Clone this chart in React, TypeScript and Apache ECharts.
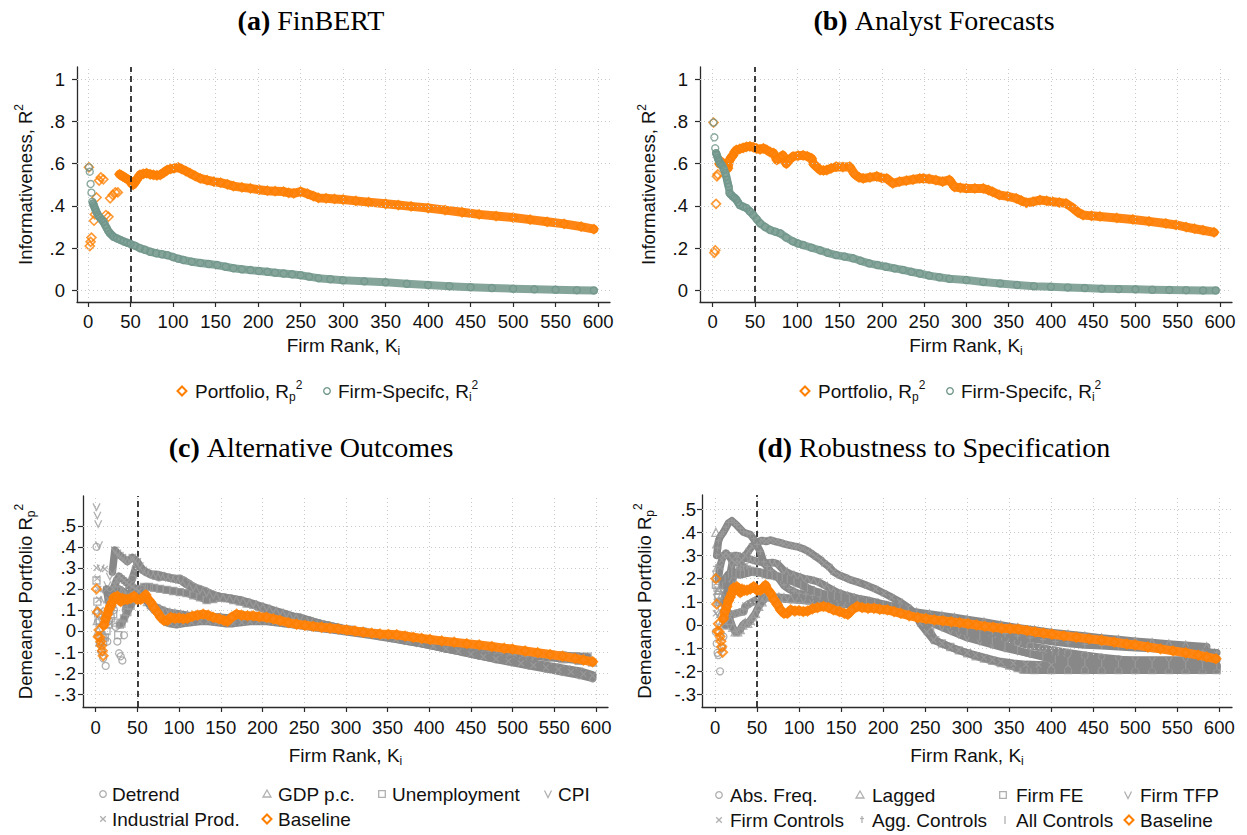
import React, { useEffect, useRef } from 'react';
import * as echarts from 'echarts';

// ---------- tick values ----------
const X_TICKS = [0, 50, 100, 150, 200, 250, 300, 350, 400, 450, 500, 550, 600];
const Y_TICKS_AB = [0, 0.2, 0.4, 0.6, 0.8, 1];
const Y_TICKS_CD = [-0.3, -0.2, -0.1, 0, 0.1, 0.2, 0.3, 0.4, 0.5];

// ---------- (a) FinBERT : [firm rank, R²] ----------
const aPortfolio: [number, number][] = [
  [1, 0.583], [2, 0.21], [3, 0.23], [4, 0.25], [7, 0.33], [8, 0.36], [10, 0.44], [13, 0.52], [15, 0.535], [18, 0.526],
  [21, 0.357], [24, 0.349], [26, 0.436], [29, 0.452], [32, 0.464], [35, 0.464], [37, 0.55], [39, 0.545], [41, 0.54],
  [43, 0.535], [45, 0.53], [47, 0.525], [49, 0.52], [51, 0.507], [53, 0.5], [55, 0.51], [57, 0.523], [59, 0.535],
  [61, 0.547], [65, 0.552], [69, 0.555], [73, 0.55], [77, 0.547], [81, 0.545], [85, 0.547], [89, 0.558], [93, 0.57],
  [97, 0.575], [101, 0.578], [106, 0.583], [110, 0.575], [115, 0.565], [120, 0.555], [126, 0.542], [132, 0.53],
  [140, 0.522], [148, 0.515], [156, 0.51], [164, 0.502], [171, 0.494], [181, 0.488], [191, 0.483], [201, 0.477],
  [211, 0.472], [220, 0.47], [230, 0.468], [236, 0.462], [242, 0.46], [250, 0.468], [258, 0.458], [265, 0.447],
  [271, 0.438], [280, 0.436], [290, 0.433], [300, 0.43], [315, 0.424], [330, 0.418], [350, 0.41], [365, 0.404],
  [380, 0.398], [400, 0.39], [420, 0.38], [440, 0.37], [460, 0.36], [480, 0.352], [500, 0.345], [520, 0.335],
  [540, 0.325], [560, 0.315], [580, 0.302], [595, 0.29],
];
const aFirm: [number, number][] = [
  [1, 0.583], [2, 0.562], [3, 0.504], [4, 0.463], [5, 0.42], [6, 0.412], [7, 0.4], [8, 0.39], [9, 0.38], [10, 0.37],
  [12, 0.355], [14, 0.345], [16, 0.335], [18, 0.325], [20, 0.31], [22, 0.295], [24, 0.28], [26, 0.27], [28, 0.262],
  [30, 0.254], [34, 0.246], [38, 0.239], [42, 0.232], [46, 0.226], [50, 0.22], [55, 0.212], [61, 0.2], [67, 0.192],
  [73, 0.183], [80, 0.176], [87, 0.171], [93, 0.167], [100, 0.158], [106, 0.15], [112, 0.144], [122, 0.136],
  [132, 0.13], [142, 0.125], [152, 0.12], [162, 0.112], [171, 0.105], [181, 0.1], [191, 0.096], [201, 0.092],
  [211, 0.088], [220, 0.084], [230, 0.08], [240, 0.076], [250, 0.072], [260, 0.065], [271, 0.058], [285, 0.053],
  [300, 0.048], [325, 0.043], [350, 0.038], [375, 0.031], [400, 0.025], [425, 0.02], [450, 0.015], [475, 0.011],
  [500, 0.008], [525, 0.005], [550, 0.003], [575, 0.001], [595, 0.0],
];

// ---------- (b) Analyst Forecasts ----------
const bPortfolio: [number, number][] = [
  [1, 0.795], [2, 0.178], [3, 0.19], [4, 0.41], [5, 0.54], [6, 0.55], [8, 0.6], [10, 0.61], [12, 0.595], [14, 0.59],
  [16, 0.585], [18, 0.578], [20, 0.617], [22, 0.63], [24, 0.64], [26, 0.655], [28, 0.665], [32, 0.67], [36, 0.675],
  [40, 0.68], [44, 0.682], [48, 0.678], [52, 0.672], [56, 0.668], [60, 0.673], [64, 0.665], [68, 0.655], [72, 0.65],
  [76, 0.618], [80, 0.63], [83, 0.64], [87, 0.6], [91, 0.62], [95, 0.634], [101, 0.638], [107, 0.64], [112, 0.635],
  [117, 0.625], [119, 0.6], [123, 0.585], [127, 0.57], [131, 0.568], [135, 0.57], [140, 0.578], [146, 0.586],
  [154, 0.584], [162, 0.586], [168, 0.55], [173, 0.535], [178, 0.53], [186, 0.535], [194, 0.54], [200, 0.533],
  [206, 0.53], [213, 0.507], [221, 0.515], [229, 0.52], [237, 0.525], [245, 0.53], [249, 0.53], [256, 0.528],
  [264, 0.522], [272, 0.515], [280, 0.523], [286, 0.49], [293, 0.486], [300, 0.483], [310, 0.483], [320, 0.483],
  [326, 0.475], [331, 0.467], [339, 0.452], [349, 0.445], [359, 0.436], [365, 0.425], [371, 0.415], [379, 0.42],
  [387, 0.428], [395, 0.424], [402, 0.42], [410, 0.416], [418, 0.412], [426, 0.39], [432, 0.37], [438, 0.357],
  [448, 0.353], [458, 0.35], [478, 0.343], [497, 0.336], [516, 0.327], [536, 0.317], [548, 0.31], [560, 0.3],
  [570, 0.292], [580, 0.285], [593, 0.275],
];
const bFirm: [number, number][] = [
  [1, 0.795], [2, 0.725], [3, 0.673], [4, 0.65], [5, 0.64], [6, 0.628], [7, 0.618], [8, 0.61], [9, 0.6], [11, 0.593],
  [13, 0.575], [15, 0.555], [16, 0.54], [17, 0.523], [18, 0.505], [19, 0.49], [20, 0.46], [22, 0.452], [24, 0.444],
  [26, 0.438], [28, 0.43], [30, 0.417], [32, 0.404], [36, 0.397], [40, 0.39], [44, 0.374], [48, 0.357], [52, 0.338],
  [56, 0.318], [62, 0.3], [68, 0.286], [74, 0.278], [80, 0.27], [87, 0.25], [95, 0.232], [101, 0.222], [107, 0.215],
  [117, 0.202], [127, 0.19], [136, 0.178], [146, 0.167], [156, 0.16], [166, 0.152], [175, 0.14], [185, 0.128],
  [195, 0.12], [205, 0.112], [215, 0.104], [225, 0.097], [235, 0.088], [245, 0.08], [256, 0.07], [268, 0.062],
  [280, 0.055], [300, 0.049], [320, 0.04], [340, 0.033], [360, 0.026], [380, 0.02], [400, 0.017], [420, 0.014],
  [440, 0.011], [460, 0.008], [480, 0.006], [500, 0.005], [520, 0.003], [540, 0.002], [560, 0.001], [580, 0.0],
  [595, 0.0],
];

// ---------- baseline demeaned portfolio R², shared by (c) and (d) ----------
const baseline: [number, number][] = [
  [1, 0.2], [2, 0.09], [3, -0.027], [4, 0.005], [5, -0.03], [6, -0.05], [7, -0.07], [8, -0.094], [9, -0.118],
  [10, 0.028], [12, 0.06], [14, 0.08], [16, 0.105], [18, 0.12], [20, 0.137], [22, 0.16], [24, 0.155], [26, 0.165],
  [28, 0.15], [30, 0.14], [32, 0.155], [35, 0.15], [38, 0.15], [42, 0.155], [46, 0.165], [50, 0.15], [54, 0.15],
  [57, 0.16], [60, 0.172], [63, 0.15], [66, 0.137], [70, 0.11], [74, 0.088], [78, 0.065], [82, 0.05], [86, 0.05],
  [90, 0.065], [95, 0.06], [100, 0.062], [105, 0.058], [110, 0.06], [116, 0.07], [122, 0.075], [129, 0.08],
  [135, 0.075], [141, 0.065], [148, 0.058], [154, 0.05], [158, 0.046], [163, 0.065], [169, 0.08], [175, 0.075],
  [182, 0.072], [189, 0.072], [196, 0.068], [205, 0.065], [213, 0.058], [221, 0.05], [231, 0.04], [241, 0.032],
  [251, 0.027], [261, 0.022], [271, 0.018], [281, 0.014], [291, 0.01], [301, 0.005], [311, 0.0], [321, -0.006],
  [331, -0.01], [341, -0.014], [351, -0.016], [361, -0.018], [371, -0.024], [381, -0.03], [391, -0.035],
  [401, -0.04], [415, -0.047], [430, -0.053], [445, -0.06], [460, -0.066], [475, -0.074], [490, -0.082],
  [500, -0.086], [515, -0.095], [530, -0.103], [545, -0.112], [560, -0.12], [575, -0.13], [585, -0.138],
  [596, -0.146],
];

// ---------- (c) Alternative Outcomes ----------
const cDetrend: [number, number][] = [
  [1, 0.4], [3, 0.05], [5, -0.06], [7, -0.1], [9, -0.13], [12, -0.166], [14, -0.05], [16, 0.05], [18, 0.1],
  [20, 0.12], [22, 0.1], [24, 0.02], [26, -0.05], [28, -0.106], [30, -0.12], [32, -0.14], [34, -0.02], [36, 0.1],
  [38, 0.15], [40, 0.2], [44, 0.25], [48, 0.3], [50, 0.32], [53, 0.3], [56, 0.29], [60, 0.28], [65, 0.27],
  [70, 0.262], [76, 0.255], [82, 0.26], [88, 0.255], [94, 0.25], [101, 0.25], [106, 0.24], [112, 0.225],
  [118, 0.21], [125, 0.2], [132, 0.19], [140, 0.175], [147, 0.165], [155, 0.16], [163, 0.155], [173, 0.148],
  [182, 0.135], [192, 0.12], [202, 0.105], [212, 0.095], [222, 0.085], [234, 0.072], [245, 0.065], [257, 0.05],
  [269, 0.036], [280, 0.026], [295, 0.012], [310, 0.0], [325, -0.012], [340, -0.022], [355, -0.03], [370, -0.04],
  [385, -0.052], [400, -0.065], [420, -0.085], [440, -0.1], [460, -0.118], [480, -0.135], [500, -0.15],
  [520, -0.165], [540, -0.18], [560, -0.195], [580, -0.21], [596, -0.225],
];
const cGdp: [number, number][] = [
  [1, 0.1], [2, 0.05], [3, 0.0], [5, -0.05], [7, -0.08], [10, -0.02], [13, 0.05], [16, 0.1], [19, 0.13], [22, 0.16],
  [25, 0.18], [28, 0.2], [32, 0.19], [36, 0.17], [40, 0.16], [44, 0.18], [48, 0.2], [52, 0.19], [57, 0.163],
  [62, 0.14], [67, 0.125], [72, 0.115], [77, 0.105], [83, 0.095], [89, 0.088], [95, 0.084], [102, 0.08],
  [110, 0.075], [120, 0.07], [130, 0.07], [140, 0.068], [150, 0.066], [160, 0.062], [170, 0.06], [180, 0.058],
  [190, 0.056], [200, 0.052], [215, 0.048], [230, 0.04], [245, 0.035], [260, 0.03], [275, 0.02], [290, 0.012],
  [305, 0.004], [320, -0.005], [335, -0.012], [350, -0.02], [365, -0.028], [380, -0.035], [395, -0.045],
  [410, -0.055], [425, -0.065], [440, -0.075], [455, -0.085], [470, -0.095], [485, -0.103], [500, -0.11],
  [520, -0.118], [540, -0.125], [560, -0.132], [580, -0.14], [596, -0.148],
];
const cUnemployment: [number, number][] = [
  [1, 0.24], [2, 0.14], [3, 0.084], [5, 0.04], [7, -0.02], [9, -0.05], [11, -0.03], [13, 0.0], [15, 0.03],
  [18, 0.06], [21, 0.08], [24, 0.04], [27, -0.02], [29, 0.03], [31, 0.035], [34, 0.06], [38, 0.09], [42, 0.12],
  [46, 0.15], [50, 0.17], [54, 0.2], [58, 0.21], [64, 0.21], [70, 0.205], [77, 0.2], [85, 0.195], [93, 0.19],
  [101, 0.185], [109, 0.18], [117, 0.17], [125, 0.16], [133, 0.147], [141, 0.152], [149, 0.158], [157, 0.155],
  [165, 0.147], [173, 0.14], [181, 0.13], [189, 0.124], [197, 0.112], [205, 0.1], [213, 0.09], [221, 0.075],
  [229, 0.062], [237, 0.052], [245, 0.045], [255, 0.038], [265, 0.03], [275, 0.024], [290, 0.015], [305, 0.006],
  [320, -0.002], [335, -0.01], [350, -0.018], [365, -0.026], [380, -0.034], [395, -0.042], [410, -0.05],
  [425, -0.058], [440, -0.066], [455, -0.074], [470, -0.082], [485, -0.09], [500, -0.097], [515, -0.103],
  [530, -0.108], [545, -0.112], [560, -0.116], [575, -0.119], [590, -0.122],
];
const cCpi: [number, number][] = [
  [1, 0.59], [2, 0.55], [3, 0.51], [4, 0.41], [6, 0.3], [8, 0.2], [10, 0.15], [12, 0.18], [14, 0.22], [17, 0.26],
  [20, 0.28], [23, 0.385], [26, 0.37], [29, 0.36], [32, 0.35], [35, 0.34], [38, 0.33], [41, 0.34], [44, 0.35],
  [47, 0.34], [50, 0.33], [53, 0.31], [57, 0.29], [61, 0.28], [66, 0.27], [72, 0.27], [78, 0.265], [84, 0.255],
  [90, 0.25], [96, 0.245], [102, 0.24], [109, 0.22], [117, 0.205], [125, 0.195], [133, 0.18], [141, 0.17],
  [149, 0.163], [157, 0.158], [165, 0.152], [173, 0.147], [181, 0.14], [189, 0.13], [197, 0.12], [205, 0.11],
  [213, 0.1], [221, 0.09], [229, 0.08], [237, 0.07], [245, 0.062], [257, 0.05], [269, 0.036], [281, 0.025],
  [295, 0.013], [310, 0.0], [325, -0.012], [340, -0.024], [355, -0.034], [370, -0.045], [385, -0.056],
  [400, -0.068], [415, -0.08], [430, -0.09], [445, -0.1], [460, -0.11], [475, -0.12], [490, -0.13], [505, -0.14],
  [520, -0.15], [535, -0.16], [550, -0.17], [565, -0.18], [580, -0.19], [596, -0.208],
];
const cIndustrial: [number, number][] = [
  [1, 0.3], [2, 0.25], [3, 0.2], [4, 0.15], [6, 0.1], [8, 0.05], [11, 0.295], [13, 0.2], [15, 0.15], [17, 0.12],
  [19, 0.16], [21, 0.2], [23, 0.22], [25, 0.24], [28, 0.26], [31, 0.25], [34, 0.24], [37, 0.23], [40, 0.22],
  [44, 0.21], [48, 0.2], [52, 0.19], [56, 0.17], [60, 0.15], [65, 0.12], [70, 0.1], [75, 0.08], [80, 0.055],
  [85, 0.04], [90, 0.034], [97, 0.03], [105, 0.035], [115, 0.04], [125, 0.045], [135, 0.045], [145, 0.04],
  [155, 0.035], [165, 0.035], [175, 0.04], [185, 0.045], [195, 0.045], [205, 0.045], [215, 0.04], [225, 0.035],
  [240, 0.028], [255, 0.02], [270, 0.012], [285, 0.004], [300, -0.004], [315, -0.012], [330, -0.02], [345, -0.03],
  [360, -0.04], [375, -0.05], [390, -0.06], [405, -0.072], [420, -0.085], [435, -0.097], [450, -0.11],
  [465, -0.122], [480, -0.133], [495, -0.143], [510, -0.153], [525, -0.163], [540, -0.173], [555, -0.183],
  [570, -0.195], [585, -0.205], [596, -0.212],
];

// ---------- (d) Robustness to Specification ----------
const dAbsFreq: [number, number][] = [
  [1, -0.03], [2, -0.08], [3, -0.12], [4, -0.13], [6, -0.2], [8, -0.1], [10, -0.05], [13, 0.0], [16, 0.03],
  [20, 0.045], [25, 0.05], [30, 0.055], [34, 0.058], [36, 0.08], [40, 0.09], [45, 0.1], [50, 0.11], [55, 0.115],
  [60, 0.12], [66, 0.118], [72, 0.115], [80, 0.112], [90, 0.11], [100, 0.108], [110, 0.105], [120, 0.1],
  [135, 0.095], [150, 0.09], [165, 0.085], [180, 0.08], [195, 0.074], [210, 0.065], [225, 0.055], [240, 0.045],
  [255, 0.03], [270, 0.015], [285, 0.0], [300, -0.015], [315, -0.03], [330, -0.045], [345, -0.06], [360, -0.075],
  [375, -0.09], [390, -0.1], [405, -0.11], [420, -0.12], [440, -0.13], [460, -0.14], [480, -0.148], [500, -0.155],
  [520, -0.16], [540, -0.165], [560, -0.168], [580, -0.172], [597, -0.175],
];
const dLagged: [number, number][] = [
  [1, 0.4], [2, 0.35], [3, 0.25], [4, 0.15], [5, 0.1], [7, 0.05], [9, 0.02], [12, 0.0], [15, 0.06], [18, 0.02],
  [21, -0.01], [24, -0.03], [27, -0.03], [30, -0.02], [33, 0.0], [36, 0.01], [39, 0.007], [42, 0.02], [45, 0.035],
  [48, 0.05], [52, 0.08], [56, 0.1], [60, 0.12], [65, 0.125], [70, 0.12], [76, 0.12], [82, 0.118], [90, 0.115],
  [100, 0.113], [110, 0.11], [120, 0.108], [135, 0.1], [150, 0.095], [165, 0.09], [180, 0.085], [195, 0.078],
  [210, 0.07], [225, 0.062], [240, 0.055], [255, 0.048], [270, 0.04], [285, 0.032], [300, 0.024], [320, 0.013],
  [340, 0.0], [360, -0.012], [380, -0.022], [400, -0.032], [420, -0.04], [440, -0.048], [460, -0.056],
  [480, -0.063], [500, -0.07], [520, -0.076], [540, -0.082], [560, -0.087], [585, -0.094],
];
const dFirmFE: [number, number][] = [
  [1, 0.173], [2, 0.2], [3, 0.16], [4, 0.12], [6, 0.1], [8, 0.08], [10, 0.1], [12, 0.13], [15, 0.15], [18, 0.17],
  [21, 0.2], [24, 0.22], [27, 0.23], [30, 0.24], [34, 0.25], [38, 0.24], [42, 0.235], [46, 0.23], [50, 0.228],
  [55, 0.225], [60, 0.22], [66, 0.218], [74, 0.21], [82, 0.2], [90, 0.19], [98, 0.18], [106, 0.165], [114, 0.15],
  [122, 0.14], [130, 0.13], [140, 0.12], [150, 0.11], [160, 0.105], [170, 0.1], [180, 0.095], [190, 0.09],
  [200, 0.085], [210, 0.08], [220, 0.072], [230, 0.06], [240, 0.035], [248, 0.01], [256, -0.03], [262, -0.065],
  [270, -0.08], [280, -0.095], [290, -0.11], [300, -0.122], [310, -0.135], [320, -0.145], [330, -0.155],
  [340, -0.165], [350, -0.175], [360, -0.186], [367, -0.194], [380, -0.195], [400, -0.195], [420, -0.195],
  [440, -0.195], [460, -0.195], [480, -0.195], [500, -0.195], [520, -0.195], [540, -0.195], [560, -0.195],
  [580, -0.195], [597, -0.195],
];
const dFirmTfp: [number, number][] = [
  [1, 0.22], [2, 0.12], [3, 0.05], [5, 0.0], [7, -0.05], [9, -0.1], [11, 0.05], [14, 0.12], [17, 0.2], [20, 0.26],
  [23, 0.3], [26, 0.3], [30, 0.295], [35, 0.29], [40, 0.285], [45, 0.28], [50, 0.275], [56, 0.27], [62, 0.268],
  [68, 0.27], [74, 0.265], [82, 0.235], [90, 0.22], [98, 0.21], [106, 0.2], [114, 0.195], [122, 0.187],
  [130, 0.172], [138, 0.155], [146, 0.14], [154, 0.13], [162, 0.122], [170, 0.115], [180, 0.108], [190, 0.1],
  [200, 0.09], [210, 0.08], [220, 0.065], [230, 0.05], [240, 0.035], [250, 0.02], [260, 0.005], [270, -0.01],
  [280, -0.025], [290, -0.04], [300, -0.055], [315, -0.07], [330, -0.085], [345, -0.1], [360, -0.112],
  [375, -0.124], [390, -0.132], [405, -0.138], [419, -0.144], [440, -0.148], [460, -0.15], [480, -0.151],
  [500, -0.151], [520, -0.151], [540, -0.151], [560, -0.151], [580, -0.151], [597, -0.151],
];
const dFirmControls: [number, number][] = [
  [1, 0.05], [2, 0.1], [3, 0.15], [4, 0.2], [6, 0.25], [8, 0.28], [10, 0.3], [13, 0.31], [16, 0.3], [20, 0.28],
  [24, 0.27], [28, 0.27], [32, 0.28], [36, 0.3], [40, 0.32], [44, 0.34], [48, 0.35], [52, 0.36], [56, 0.365],
  [61, 0.36], [66, 0.367], [72, 0.36], [78, 0.355], [82, 0.35], [88, 0.345], [94, 0.34], [98, 0.338],
  [104, 0.33], [110, 0.32], [114, 0.31], [120, 0.295], [126, 0.28], [130, 0.266], [136, 0.25], [141, 0.23],
  [148, 0.215], [155, 0.205], [161, 0.195], [170, 0.185], [181, 0.17], [191, 0.155], [201, 0.137], [210, 0.12],
  [220, 0.1], [230, 0.075], [238, 0.05], [244, 0.007], [252, -0.03], [260, -0.065], [270, -0.08], [280, -0.095],
  [290, -0.108], [300, -0.12], [310, -0.13], [320, -0.14], [330, -0.15], [340, -0.158], [355, -0.165],
  [370, -0.17], [385, -0.172], [400, -0.173], [420, -0.173], [440, -0.174], [460, -0.175], [480, -0.176],
  [500, -0.177], [520, -0.178], [540, -0.179], [560, -0.18], [580, -0.182], [597, -0.185],
];
const dAggControls: [number, number][] = [
  [1, 0.25], [2, 0.3], [3, 0.33], [4, 0.36], [6, 0.38], [8, 0.39], [10, 0.4], [13, 0.42], [16, 0.44], [20, 0.45],
  [23, 0.44], [26, 0.43], [30, 0.415], [34, 0.4], [38, 0.395], [42, 0.39], [46, 0.37], [50, 0.345], [54, 0.315],
  [58, 0.27], [62, 0.25], [66, 0.232], [72, 0.216], [78, 0.19], [82, 0.17], [88, 0.155], [94, 0.144],
  [100, 0.135], [108, 0.13], [116, 0.125], [125, 0.12], [135, 0.115], [145, 0.11], [155, 0.105], [165, 0.1],
  [175, 0.095], [185, 0.09], [195, 0.085], [205, 0.078], [215, 0.07], [225, 0.06], [235, 0.05], [245, 0.04],
  [255, 0.03], [265, 0.02], [275, 0.01], [285, 0.002], [300, -0.01], [315, -0.02], [330, -0.03], [345, -0.04],
  [360, -0.05], [375, -0.058], [390, -0.066], [405, -0.074], [420, -0.08], [440, -0.086], [460, -0.09],
  [480, -0.094], [500, -0.098], [520, -0.102], [540, -0.106], [560, -0.11], [580, -0.115], [597, -0.12],
];
const dAllControls: [number, number][] = [
  [1, 0.15], [2, 0.2], [3, 0.23], [5, 0.18], [7, 0.15], [9, 0.17], [12, 0.2], [16, 0.22], [20, 0.23], [25, 0.22],
  [30, 0.216], [35, 0.22], [40, 0.225], [45, 0.23], [50, 0.232], [56, 0.225], [62, 0.215], [68, 0.212],
  [74, 0.21], [80, 0.205], [86, 0.198], [94, 0.187], [102, 0.175], [110, 0.16], [118, 0.148], [126, 0.138],
  [134, 0.13], [142, 0.125], [150, 0.12], [160, 0.112], [170, 0.105], [180, 0.1], [190, 0.095], [200, 0.09],
  [210, 0.082], [220, 0.072], [230, 0.062], [240, 0.05], [250, 0.04], [260, 0.028], [270, 0.015], [280, 0.0],
  [290, -0.015], [300, -0.03], [315, -0.05], [330, -0.07], [345, -0.09], [360, -0.11], [375, -0.125],
  [390, -0.138], [405, -0.148], [420, -0.156], [440, -0.162], [460, -0.166], [480, -0.168], [500, -0.17],
  [520, -0.172], [540, -0.173], [560, -0.174], [580, -0.175], [597, -0.176],
];

// ---------- styling ----------
const FONT = 'Liberation Sans, Arial, sans-serif';
const SERIF = 'Liberation Serif, Times New Roman, serif';
const TXT = '#111111';
const AXIS = '#2a2a2a';
const ORANGE = '#ff7f00';
const ORANGE_BAND = '#ff8614';
const TEAL = '#6f958a';
const TEAL_BAND = '#85a59b';
const GREY = '#9c9c9c';
const GREY_BAND = '#888888';
const LEGEND_GREY = '#b0b0b0';

const V_PATH = 'path://M0,0L5,10L10,0';
const X_PATH = 'path://M0,0L10,10M10,0L0,10';
const PLUS_PATH = 'path://M5,0L5,10M2,4L8,4';

const richSmall = () => ({
  sub: { fontSize: 12, fontFamily: FONT, color: TXT, lineHeight: 12, verticalAlign: 'bottom' },
  sup: { fontSize: 12, fontFamily: FONT, color: TXT, lineHeight: 12, verticalAlign: 'top' },
});

interface Layer {
  data: [number, number][];
  from: number;
  symbol: string;
  size: number | number[];
  color: string;
  band: string;
  width: number;
  border: number;
  filled?: boolean;
}

const layersA: Layer[] = [
  { data: aPortfolio, from: 37, symbol: 'diamond', size: 9, color: ORANGE, band: ORANGE_BAND, width: 9, border: 1.6 },
  { data: aFirm, from: 6, symbol: 'circle', size: 7, color: TEAL, band: TEAL_BAND, width: 8, border: 1.4 },
];
const layersB: Layer[] = [
  { data: bPortfolio, from: 8, symbol: 'diamond', size: 9, color: ORANGE, band: ORANGE_BAND, width: 9, border: 1.6 },
  { data: bFirm, from: 4, symbol: 'circle', size: 7, color: TEAL, band: TEAL_BAND, width: 8, border: 1.4 },
];
const layersC: Layer[] = [
  { data: cDetrend, from: 36, symbol: 'circle', size: 7, color: GREY, band: GREY_BAND, width: 7.5, border: 1.3 },
  { data: cGdp, from: 13, symbol: 'triangle', size: 8, color: GREY, band: GREY_BAND, width: 7.5, border: 1.3 },
  { data: cUnemployment, from: 29, symbol: 'rect', size: 7, color: GREY, band: GREY_BAND, width: 7.5, border: 1.3 },
  { data: cCpi, from: 20, symbol: V_PATH, size: 7, color: GREY, band: GREY_BAND, width: 7.5, border: 1.3 },
  { data: cIndustrial, from: 13, symbol: X_PATH, size: 6, color: GREY, band: GREY_BAND, width: 7.5, border: 1.3 },
  { data: baseline, from: 10, symbol: 'diamond', size: 9, color: ORANGE, band: ORANGE_BAND, width: 9, border: 2 },
];
const layersD: Layer[] = [
  { data: dAbsFreq, from: 13, symbol: 'circle', size: 7, color: GREY, band: GREY_BAND, width: 7.5, border: 1.3 },
  { data: dLagged, from: 12, symbol: 'triangle', size: 8, color: GREY, band: GREY_BAND, width: 7.5, border: 1.3 },
  { data: dFirmFE, from: 10, symbol: 'rect', size: 7, color: GREY, band: GREY_BAND, width: 7.5, border: 1.3 },
  { data: dFirmTfp, from: 11, symbol: V_PATH, size: 7, color: GREY, band: GREY_BAND, width: 7.5, border: 1.3 },
  { data: dFirmControls, from: 4, symbol: X_PATH, size: 6, color: GREY, band: GREY_BAND, width: 7.5, border: 1.3 },
  { data: dAggControls, from: 2, symbol: PLUS_PATH, size: 6, color: GREY, band: GREY_BAND, width: 7.5, border: 1.3 },
  { data: dAllControls, from: 9, symbol: 'rect', size: [1.3, 8], color: GREY, band: GREY_BAND, width: 7.5, border: 0, filled: true },
  { data: baseline, from: 10, symbol: 'diamond', size: 9, color: ORANGE, band: ORANGE_BAND, width: 9, border: 2 },
];

// plot boxes of the four panels and the value range each axis covers
const GRIDS = [
  { left: 77, top: 67, width: 533, height: 235 },
  { left: 700, top: 67, width: 532, height: 235 },
  { left: 83, top: 496, width: 525, height: 211 },
  { left: 702, top: 495, width: 530, height: 212 },
];
const X_RANGES = [[-13, 614], [-15, 614.2], [-15.2, 614.4], [-15.5, 615.1]];
const Y_RANGES = [[-0.055, 1.058], [-0.055, 1.058], [-0.3612, 0.6416], [-0.354, 0.561]];
const X_NAME_GAP = [31, 31, 36, 36];
const X_LABEL_MARGIN = [10, 10, 11, 11];
const Y_NAME_GAP = [40, 40, 46, 46];
const Y_LABEL_MARGIN = [12, 12, 7, 6];

function fmtTick(v: number): string {
  if (Math.abs(v) < 1e-9) return '0';
  if (Math.abs(v - 1) < 1e-9) return '1';
  const s = Math.abs(v).toFixed(1).replace(/^0/, '');
  return (v < 0 ? '-' : '') + s;
}

function panelSeries(layers: Layer[], gi: number): any[] {
  const out: any[] = [];
  layers.forEach((l, k) => {
    out.push({
      type: 'line',
      xAxisIndex: gi,
      yAxisIndex: gi,
      data: l.data.filter((p) => p[0] >= l.from),
      symbol: 'none',
      showSymbol: false,
      silent: true,
      z: 3 + k * 2,
      lineStyle: { color: l.band, width: l.width, cap: 'round', join: 'round' },
    });
    out.push({
      type: 'scatter',
      xAxisIndex: gi,
      yAxisIndex: gi,
      data: l.data,
      symbol: l.symbol,
      symbolSize: l.size,
      silent: true,
      z: 4 + k * 2,
      itemStyle: l.filled
        ? { color: l.color }
        : { color: 'rgba(0,0,0,0)', borderColor: l.color, borderWidth: l.border },
    });
  });
  return out;
}

function gridLineSeries(gi: number, yTicks: number[]): any[] {
  return [
    {
      type: 'line',
      xAxisIndex: gi,
      yAxisIndex: gi,
      data: [],
      z: 1,
      silent: true,
      markLine: {
        silent: true,
        symbol: ['none', 'none'],
        label: { show: false },
        lineStyle: { color: '#c9c9c9', width: 1, type: [1, 3] },
        data: [...X_TICKS.map((v) => ({ xAxis: v })), ...yTicks.map((v) => ({ yAxis: v }))],
      },
    },
    {
      type: 'line',
      xAxisIndex: gi,
      yAxisIndex: gi,
      data: [],
      z: 40,
      silent: true,
      markLine: {
        silent: true,
        symbol: ['none', 'none'],
        label: { show: false },
        lineStyle: { color: '#111111', width: 1.6, type: [6, 4] },
        data: [{ xAxis: 50 }],
      },
    },
  ];
}

// ---------- legends and panel titles ----------
interface LegendEntry { sym: string; color: string; label: string; ix: number; tx: number; y: number }

const legendEntries: LegendEntry[] = [
  { sym: 'diamond', color: ORANGE, label: 'Portfolio, R{sub|p}{sup|2}', ix: 182, tx: 195, y: 391 },
  { sym: 'circle', color: TEAL, label: 'Firm-Specifc, R{sub|i}{sup|2}', ix: 327, tx: 338, y: 391 },
  { sym: 'diamond', color: ORANGE, label: 'Portfolio, R{sub|p}{sup|2}', ix: 805, tx: 818, y: 391 },
  { sym: 'circle', color: TEAL, label: 'Firm-Specifc, R{sub|i}{sup|2}', ix: 950, tx: 961, y: 391 },
  { sym: 'circle', color: LEGEND_GREY, label: 'Detrend', ix: 103, tx: 112, y: 794 },
  { sym: 'triangle', color: LEGEND_GREY, label: 'GDP p.c.', ix: 267, tx: 278, y: 794 },
  { sym: 'square', color: LEGEND_GREY, label: 'Unemployment', ix: 382, tx: 392, y: 794 },
  { sym: 'v', color: LEGEND_GREY, label: 'CPI', ix: 548, tx: 558, y: 794 },
  { sym: 'x', color: LEGEND_GREY, label: 'Industrial Prod.', ix: 103, tx: 112, y: 819 },
  { sym: 'diamond', color: ORANGE, label: 'Baseline', ix: 267, tx: 278, y: 819 },
  { sym: 'circle', color: LEGEND_GREY, label: 'Abs. Freq.', ix: 719, tx: 730, y: 795 },
  { sym: 'triangle', color: LEGEND_GREY, label: 'Lagged', ix: 860, tx: 872, y: 795 },
  { sym: 'square', color: LEGEND_GREY, label: 'Firm FE', ix: 1003, tx: 1016, y: 795 },
  { sym: 'v', color: LEGEND_GREY, label: 'Firm TFP', ix: 1128, tx: 1140, y: 795 },
  { sym: 'x', color: LEGEND_GREY, label: 'Firm Controls', ix: 719, tx: 730, y: 820 },
  { sym: 'plus', color: LEGEND_GREY, label: 'Agg. Controls', ix: 862, tx: 872, y: 820 },
  { sym: 'bar', color: LEGEND_GREY, label: 'All Controls', ix: 1005, tx: 1016, y: 820 },
  { sym: 'diamond', color: ORANGE, label: 'Baseline', ix: 1129, tx: 1140, y: 820 },
];

const titles = [
  { tag: '(a)', text: 'FinBERT', x: 311, y: 20 },
  { tag: '(b)', text: 'Analyst Forecasts', x: 934, y: 20 },
  { tag: '(c)', text: 'Alternative Outcomes', x: 311, y: 447 },
  { tag: '(d)', text: 'Robustness to Specification', x: 934, y: 447 },
];

function legendIcon(e: LegendEntry): any[] {
  const { ix: x, y, color } = e;
  const st = { fill: 'none', stroke: color, lineWidth: 1.3 };
  switch (e.sym) {
    case 'diamond':
      return [{ type: 'polygon', shape: { points: [[x, y - 4.5], [x + 4.5, y], [x, y + 4.5], [x - 4.5, y]] }, style: { fill: 'none', stroke: color, lineWidth: 2 } }];
    case 'circle':
      return [{ type: 'circle', shape: { cx: x, cy: y, r: 3.3 }, style: st }];
    case 'triangle':
      return [{ type: 'polygon', shape: { points: [[x, y - 4], [x + 4, y + 3], [x - 4, y + 3]] }, style: st }];
    case 'square':
      return [{ type: 'rect', shape: { x: x - 3.3, y: y - 3.3, width: 6.6, height: 6.6 }, style: st }];
    case 'v':
      return [{ type: 'polyline', shape: { points: [[x - 3.5, y - 3.5], [x, y + 3.5], [x + 3.5, y - 3.5]] }, style: st }];
    case 'x':
      return [
        { type: 'line', shape: { x1: x - 2.8, y1: y - 2.8, x2: x + 2.8, y2: y + 2.8 }, style: st },
        { type: 'line', shape: { x1: x + 2.8, y1: y - 2.8, x2: x - 2.8, y2: y + 2.8 }, style: st },
      ];
    case 'plus':
      return [
        { type: 'line', shape: { x1: x, y1: y - 4, x2: x, y2: y + 3 }, style: st },
        { type: 'line', shape: { x1: x - 2, y1: y - 1.5, x2: x + 2, y2: y - 1.5 }, style: st },
      ];
    case 'bar':
      return [{ type: 'line', shape: { x1: x, y1: y - 4, x2: x, y2: y + 4 }, style: st }];
    default:
      return [];
  }
}

function buildGraphics(): any[] {
  const els: any[] = [];
  legendEntries.forEach((e) => {
    els.push(...legendIcon(e));
    els.push({
      type: 'text',
      x: e.tx,
      y: e.y,
      style: {
        text: e.label,
        fill: TXT,
        fontSize: 19,
        fontFamily: FONT,
        align: 'left',
        verticalAlign: 'middle',
        lineHeight: 24,
        rich: {
          sub: { fontSize: 12, fontFamily: FONT, fill: TXT, lineHeight: 12, verticalAlign: 'bottom' },
          sup: { fontSize: 12, fontFamily: FONT, fill: TXT, lineHeight: 12, verticalAlign: 'top' },
        },
      },
    });
  });
  titles.forEach((t) => {
    els.push({
      type: 'text',
      x: t.x,
      y: t.y,
      style: {
        text: `{b|${t.tag}} {n|${t.text}}`,
        align: 'center',
        verticalAlign: 'middle',
        fontSize: 28,
        fontFamily: SERIF,
        fill: '#000',
        rich: {
          b: { fontSize: 28, fontFamily: SERIF, fontWeight: 'bold', fill: '#000' },
          n: { fontSize: 28, fontFamily: SERIF, fontWeight: 'normal', fill: '#000' },
        },
      },
    });
  });
  return els;
}

function buildOption(): any {
  const yTicks = [Y_TICKS_AB, Y_TICKS_AB, Y_TICKS_CD, Y_TICKS_CD];
  const yNames = ['Informativeness, R{sup|2}', 'Informativeness, R{sup|2}', 'Demeaned Portfolio R{sub|p}{sup|2}', 'Demeaned Portfolio R{sub|p}{sup|2}'];
  const xAxis = GRIDS.map((_, i) => ({
    type: 'value',
    gridIndex: i,
    min: X_RANGES[i][0],
    max: X_RANGES[i][1],
    axisLine: { show: true, onZero: false, lineStyle: { color: AXIS, width: 1.3 } },
    axisTick: { show: true, inside: false, length: 5, customValues: X_TICKS, lineStyle: { color: AXIS, width: 1.2 } },
    axisLabel: { show: true, customValues: X_TICKS, margin: X_LABEL_MARGIN[i], fontSize: 18.5, color: TXT, fontFamily: FONT },
    splitLine: { show: false },
    name: 'Firm Rank, K{sub|i}',
    nameLocation: 'middle',
    nameGap: X_NAME_GAP[i],
    nameTextStyle: { fontSize: 19, color: TXT, fontFamily: FONT, lineHeight: 24, rich: richSmall() },
  }));
  const yAxis = GRIDS.map((_, i) => ({
    type: 'value',
    gridIndex: i,
    min: Y_RANGES[i][0],
    max: Y_RANGES[i][1],
    axisLine: { show: true, onZero: false, lineStyle: { color: AXIS, width: 1.3 } },
    axisTick: { show: true, inside: false, length: 5, customValues: yTicks[i], lineStyle: { color: AXIS, width: 1.2 } },
    axisLabel: { show: true, customValues: yTicks[i], margin: Y_LABEL_MARGIN[i], fontSize: 18.5, color: TXT, fontFamily: FONT, formatter: (v: number) => fmtTick(v) },
    splitLine: { show: false },
    name: yNames[i],
    nameLocation: 'middle',
    nameRotate: 90,
    nameGap: Y_NAME_GAP[i],
    nameTextStyle: { fontSize: 18.5, color: TXT, fontFamily: FONT, lineHeight: 24, rich: richSmall() },
  }));
  const series = [
    ...gridLineSeries(0, Y_TICKS_AB), ...panelSeries(layersA, 0),
    ...gridLineSeries(1, Y_TICKS_AB), ...panelSeries(layersB, 1),
    ...gridLineSeries(2, Y_TICKS_CD), ...panelSeries(layersC, 2),
    ...gridLineSeries(3, Y_TICKS_CD), ...panelSeries(layersD, 3),
  ];
  return {
    animation: false,
    backgroundColor: '#ffffff',
    grid: GRIDS.map((g) => ({ ...g, containLabel: false })),
    xAxis,
    yAxis,
    series,
    graphic: buildGraphics(),
  };
}

export default function App() {
  const ref = useRef<HTMLDivElement | null>(null);
  useEffect(() => {
    if (!ref.current) return;
    const chart = echarts.init(ref.current, null, { renderer: 'svg' });
    chart.setOption(buildOption());
    return () => chart.dispose();
  }, []);
  return (
    <div
      ref={ref}
      style={{ position: 'absolute', left: 0, top: 0, width: 1247, height: 835, background: '#fff' }}
    />
  );
}
